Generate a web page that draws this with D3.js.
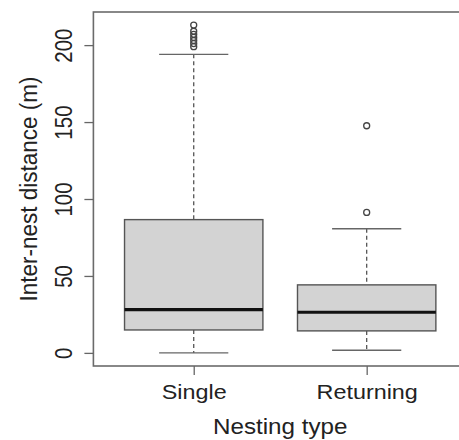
<!DOCTYPE html>
<html>
<head>
<meta charset="utf-8">
<script src="https://cdn.jsdelivr.net/npm/d3@7"></script>
<style>
  html, body { margin: 0; padding: 0; background: #fff; }
  text { font-family: "Liberation Sans", Arial, sans-serif; fill: #222; }
</style>
</head>
<body>
<div id="visual"></div>
<script>
// box statistics
const groups = ["Single", "Returning"];
const lowerWhisker = [0, 1.7];
const q1 = [14.9, 14.3];
const median = [28.1, 26.4];
const q3 = [86.6, 44.2];
const upperWhisker = [194, 80.7];
const outliersSingle = [199, 201, 203, 205, 207, 209, 213];
const outliersReturning = [91.3, 147.6];
const yTicks = [0, 50, 100, 150, 200];

const outliers = [outliersSingle, outliersReturning];

const width = 459, height = 440;
const frame = {left: 93.4, right: 467, top: 12, bottom: 366};

const svg = d3.select("#visual")
    .append("svg")
    .attr("width", width)
    .attr("height", height);

// R-style ranges: data range extended by 4% on each side
const allVals = lowerWhisker.concat(upperWhisker, outliersSingle, outliersReturning);
const yMin = d3.min(allVals), yMax = d3.max(allVals);
const pad = (yMax - yMin) * 0.04;

const y = d3.scaleLinear()
    .domain([yMin - pad, yMax + pad])
    .range([frame.bottom, frame.top]);

const x = d3.scaleLinear()
    .domain([0.5 - 0.08, groups.length + 0.5 + 0.08])
    .range([frame.left, frame.right]);

const boxW = 0.8;

// plot frame (right side runs off the picture)
svg.append("rect")
    .attr("x", frame.left)
    .attr("y", frame.top)
    .attr("width", frame.right - frame.left)
    .attr("height", frame.bottom - frame.top)
    .style("fill", "none")
    .style("stroke", "#6b6b6b")
    .style("stroke-width", 1.6);

const g = svg.selectAll(".box")
    .data(groups)
    .enter()
    .append("g")
    .attr("class", "box");

// whiskers
g.append("line")
    .attr("x1", (d, i) => x(i + 1)).attr("x2", (d, i) => x(i + 1))
    .attr("y1", (d, i) => y(upperWhisker[i])).attr("y2", (d, i) => y(q3[i]))
    .style("stroke", "#555").style("stroke-width", 1.3).style("stroke-dasharray", "4,3");
g.append("line")
    .attr("x1", (d, i) => x(i + 1)).attr("x2", (d, i) => x(i + 1))
    .attr("y1", (d, i) => y(q1[i])).attr("y2", (d, i) => y(lowerWhisker[i]))
    .style("stroke", "#555").style("stroke-width", 1.3).style("stroke-dasharray", "4,3");

// caps
g.append("line")
    .attr("x1", (d, i) => x(i + 1 - boxW / 4)).attr("x2", (d, i) => x(i + 1 + boxW / 4))
    .attr("y1", (d, i) => y(upperWhisker[i])).attr("y2", (d, i) => y(upperWhisker[i]))
    .style("stroke", "#666").style("stroke-width", 1.4);
g.append("line")
    .attr("x1", (d, i) => x(i + 1 - boxW / 4)).attr("x2", (d, i) => x(i + 1 + boxW / 4))
    .attr("y1", (d, i) => y(lowerWhisker[i])).attr("y2", (d, i) => y(lowerWhisker[i]))
    .style("stroke", "#666").style("stroke-width", 1.4);

// boxes
g.append("rect")
    .attr("x", (d, i) => x(i + 1 - boxW / 2))
    .attr("width", (d, i) => x(i + 1 + boxW / 2) - x(i + 1 - boxW / 2))
    .attr("y", (d, i) => y(q3[i]))
    .attr("height", (d, i) => y(q1[i]) - y(q3[i]))
    .style("fill", "#d3d3d3")
    .style("stroke", "#555")
    .style("stroke-width", 1.4);

// medians
g.append("line")
    .attr("x1", (d, i) => x(i + 1 - boxW / 2)).attr("x2", (d, i) => x(i + 1 + boxW / 2))
    .attr("y1", (d, i) => y(median[i])).attr("y2", (d, i) => y(median[i]))
    .style("stroke", "#111").style("stroke-width", 3.2);

// outliers
g.selectAll("circle")
    .data((d, i) => outliers[i].map(v => ({v: v, i: i})))
    .enter()
    .append("circle")
    .attr("cx", d => x(d.i + 1))
    .attr("cy", d => y(d.v))
    .attr("r", 3)
    .style("fill", "none")
    .style("stroke", "#444")
    .style("stroke-width", 1.3);

// y axis
const yAxis = svg.append("g")
    .attr("transform", "translate(" + frame.left + ",0)")
    .call(d3.axisLeft(y).tickValues(yTicks).tickSize(9).tickSizeOuter(0).tickPadding(0));
yAxis.select(".domain").remove();
yAxis.selectAll("line").style("stroke", "#666").style("stroke-width", 1.3);
yAxis.selectAll("text").remove();
yAxis.selectAll(".tick").append("text")
    .attr("transform", "translate(-21,0) scale(1.14,1) rotate(-90)")
    .attr("text-anchor", "middle")
    .style("font-size", "20.5px")
    .text(d => d);

// x axis
const xAxis = svg.append("g")
    .attr("transform", "translate(0," + frame.bottom + ")")
    .call(d3.axisBottom(x).tickValues(groups.map((d, i) => i + 1)).tickSize(9).tickSizeOuter(0));
xAxis.select(".domain").remove();
xAxis.selectAll("line").style("stroke", "#666").style("stroke-width", 1.3);
xAxis.selectAll("text").remove();
xAxis.selectAll(".tick").append("text")
    .attr("transform", "translate(0,33) scale(1.14,1)")
    .attr("text-anchor", "middle")
    .style("font-size", "20.5px")
    .text(d => groups[d - 1]);

// axis titles
svg.append("text")
    .attr("transform", "translate(" + ((frame.left + frame.right) / 2) + ",434) scale(1.1,1)")
    .attr("text-anchor", "middle")
    .style("font-size", "22px")
    .text("Nesting type");

svg.append("text")
    .attr("transform", "translate(37," + ((frame.top + frame.bottom) / 2) + ") scale(1.1,1) rotate(-90)")
    .attr("text-anchor", "middle")
    .style("font-size", "22.5px")
    .text("Inter-nest distance (m)");
</script>
</body>
</html>
